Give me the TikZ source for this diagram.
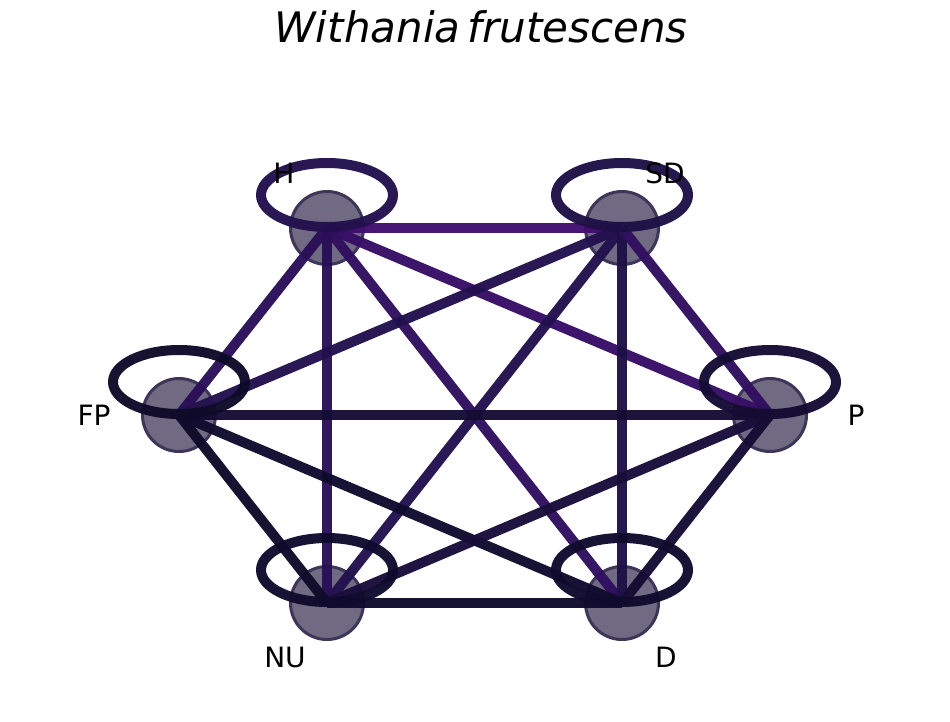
\documentclass[tikz,border=0pt]{standalone}
\usepackage{fontspec}
\setmainfont{DejaVu Sans}
\begin{document}
\begin{tikzpicture}[x=1pt,y=-1pt,
  vert/.style={circle,minimum size=73pt,inner sep=0pt,fill={rgb,255:red,112;green,106;blue,130},draw={rgb,255:red,62;green,54;blue,88},line width=3pt},
  edge/.style={line width=10pt,opacity=0.97},
  loopl/.style={line width=10pt,opacity=0.97},
  lbl/.style={font=\fontsize{28}{30}\selectfont,text=black,inner sep=0pt}]
\useasboundingbox (0,0) rectangle (950,722);
\definecolor{cA}{RGB}{66,14,112}
\definecolor{cB}{RGB}{55,14,102}
\definecolor{cC}{RGB}{48,15,95}
\definecolor{cD}{RGB}{42,15,88}
\definecolor{cE}{RGB}{34,17,78}
\definecolor{cF}{RGB}{30,17,70}
\definecolor{cG}{RGB}{25,13,58}
\definecolor{cH}{RGB}{21,12,52}
\definecolor{cI}{RGB}{16,11,45}
\definecolor{cJ}{RGB}{14,10,40}
% title
\node[font=\fontsize{42}{45}\selectfont\itshape,anchor=base] (title) at (481,43) {Withania\,frutescens};
% vertices
\node[vert] (H) at (327,228) {};
\node[vert] (SD) at (622,228) {};
\node[vert] (FP) at (179,415) {};
\node[vert] (P) at (770,415) {};
\node[vert] (NU) at (327,603) {};
\node[vert] (D) at (622,603) {};
% edges
\draw[edge,cA] (H.center) -- (SD.center);
\draw[edge,cB] (H.center) -- (P.center);
\draw[edge,cC] (H.center) -- (D.center);
\draw[edge,cD] (H.center) -- (FP.center);
\draw[edge,cD] (H.center) -- (NU.center);
\draw[edge,cE] (SD.center) -- (FP.center);
\draw[edge,cE] (SD.center) -- (NU.center);
\draw[edge,cF] (SD.center) -- (D.center);
\draw[edge,cC] (SD.center) -- (P.center);
\draw[edge,cH] (FP.center) -- (P.center);
\draw[edge,cJ] (FP.center) -- (NU.center);
\draw[edge,cI] (FP.center) -- (D.center);
\draw[edge,cG] (P.center) -- (NU.center);
\draw[edge,cH] (P.center) -- (D.center);
\draw[edge,cI] (NU.center) -- (D.center);
% self loops
\draw[loopl,cE] ([yshift=33pt]H.center) ellipse [x radius=66pt,y radius=32pt];
\draw[loopl,cF] ([yshift=33pt]SD.center) ellipse [x radius=66pt,y radius=32pt];
\draw[loopl,cJ] ([yshift=33pt]FP.center) ellipse [x radius=66pt,y radius=32pt];
\draw[loopl,cH] ([yshift=33pt]P.center) ellipse [x radius=66pt,y radius=32pt];
\draw[loopl,cI] ([yshift=33pt]NU.center) ellipse [x radius=66pt,y radius=32pt];
\draw[loopl,cI] ([yshift=33pt]D.center) ellipse [x radius=66pt,y radius=32pt];
% labels
\node[lbl] (lH) at (284,173) {H};
\node[lbl] (lSD) at (665,173) {SD};
\node[lbl] (lFP) at (94,415) {FP};
\node[lbl] (lP) at (856,415) {P};
\node[lbl] (lNU) at (285,657) {NU};
\node[lbl] (lD) at (666,657) {D};
\end{tikzpicture}
\end{document}
